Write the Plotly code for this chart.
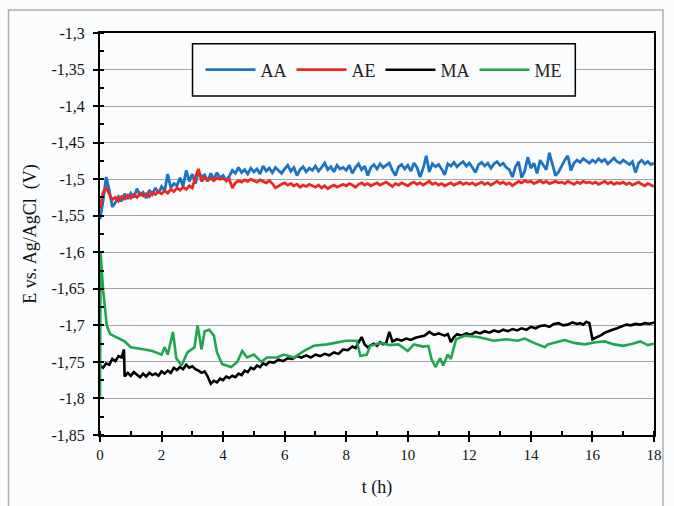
import plotly.graph_objects as go

# ---------------- data ----------------
t_step = [round(i * 0.1, 1) for i in range(181)]

AA = [
    -1.555, -1.530, -1.497, -1.515, -1.538, -1.532, -1.524, -1.530, -1.520, -1.527,
    -1.519, -1.525, -1.513, -1.522, -1.518, -1.526, -1.515, -1.521, -1.512, -1.519,
    -1.510, -1.516, -1.493, -1.512, -1.506, -1.509, -1.498, -1.510, -1.488, -1.503,
    -1.493, -1.506, -1.490, -1.497, -1.494, -1.503, -1.492, -1.500, -1.491, -1.498,
    -1.495, -1.502, -1.496, -1.488, -1.492, -1.484, -1.491, -1.487, -1.493, -1.485,
    -1.490, -1.486, -1.493, -1.482, -1.489, -1.485, -1.491, -1.484, -1.488, -1.492,
    -1.486, -1.481, -1.489, -1.484, -1.495, -1.487, -1.483, -1.490, -1.485, -1.488,
    -1.482, -1.489, -1.484, -1.478, -1.487, -1.483, -1.490, -1.481, -1.486, -1.484,
    -1.488, -1.481, -1.492, -1.484, -1.479, -1.487, -1.482, -1.495, -1.484, -1.480,
    -1.486, -1.479, -1.484, -1.481, -1.478, -1.488, -1.495, -1.483, -1.480, -1.486,
    -1.481, -1.489, -1.478, -1.484, -1.497, -1.485, -1.468, -1.490, -1.479, -1.483,
    -1.480, -1.486, -1.494, -1.479, -1.482, -1.477, -1.483, -1.479, -1.476, -1.482,
    -1.478, -1.484, -1.491, -1.480, -1.477, -1.482, -1.478, -1.485, -1.479, -1.476,
    -1.481, -1.478, -1.484, -1.487, -1.497, -1.483, -1.476, -1.498, -1.489, -1.470,
    -1.485, -1.478, -1.492, -1.474, -1.480, -1.487, -1.464, -1.479, -1.495, -1.490,
    -1.481, -1.474, -1.468, -1.488, -1.478, -1.474, -1.477, -1.472, -1.475, -1.478,
    -1.474, -1.477, -1.472, -1.476, -1.473, -1.479, -1.475, -1.471, -1.476, -1.478,
    -1.474, -1.477, -1.480, -1.476, -1.491, -1.478, -1.474, -1.479, -1.476, -1.480,
    -1.478,
]

AE = [
    -1.540, -1.518, -1.512, -1.520, -1.528, -1.525, -1.530, -1.524, -1.527, -1.522,
    -1.526, -1.521, -1.525, -1.519, -1.523, -1.520, -1.524, -1.518, -1.521, -1.517,
    -1.520, -1.516, -1.519, -1.514, -1.517, -1.512, -1.515, -1.511, -1.514, -1.509,
    -1.512, -1.497, -1.486, -1.503, -1.498, -1.501, -1.499, -1.502, -1.498, -1.500,
    -1.499, -1.502, -1.500, -1.512, -1.505, -1.502, -1.504, -1.501, -1.503, -1.500,
    -1.502, -1.504, -1.501, -1.503, -1.505, -1.502, -1.506, -1.512, -1.509, -1.507,
    -1.505, -1.508, -1.506, -1.509, -1.507, -1.511, -1.508, -1.510, -1.507, -1.509,
    -1.511, -1.508, -1.512, -1.509, -1.513, -1.510, -1.508, -1.511, -1.509, -1.507,
    -1.509, -1.506, -1.508, -1.511, -1.507, -1.505, -1.508, -1.506, -1.509, -1.507,
    -1.505, -1.508, -1.506, -1.504, -1.507, -1.510, -1.506, -1.508, -1.505, -1.507,
    -1.509, -1.506, -1.504, -1.507, -1.505, -1.508, -1.506, -1.503, -1.507, -1.505,
    -1.508, -1.506, -1.509, -1.507, -1.505, -1.508, -1.506, -1.504, -1.507, -1.505,
    -1.507, -1.505, -1.508, -1.506, -1.504, -1.507, -1.505, -1.508, -1.506, -1.503,
    -1.506, -1.504, -1.507, -1.505, -1.509, -1.506, -1.503, -1.505, -1.502, -1.504,
    -1.503, -1.506, -1.504, -1.502, -1.505, -1.503, -1.506, -1.504, -1.503, -1.505,
    -1.504, -1.506, -1.503, -1.505, -1.507, -1.504, -1.506, -1.503, -1.505, -1.504,
    -1.506, -1.504, -1.507, -1.505, -1.503, -1.506, -1.504, -1.507, -1.505, -1.506,
    -1.504, -1.507, -1.505, -1.508, -1.506, -1.504, -1.507, -1.509, -1.506, -1.508,
    -1.510,
]

t_MA = [0, 0.1, 0.2, 0.3, 0.4, 0.5, 0.6, 0.7, 0.78, 0.8, 0.9, 1.0, 1.1, 1.2, 1.3, 1.4,
        1.5, 1.6, 1.7, 1.8, 1.9, 2.0, 2.1, 2.2, 2.3, 2.4, 2.5, 2.6, 2.7, 2.8, 2.9, 3.0,
        3.1, 3.2, 3.3, 3.4, 3.5, 3.6, 3.7, 3.8, 3.9, 4.0, 4.1, 4.2, 4.3, 4.4, 4.5, 4.6,
        4.7, 4.8, 4.9, 5.0, 5.1, 5.2, 5.3, 5.4, 5.5, 5.65, 5.8, 5.95, 6.1, 6.25, 6.4,
        6.55, 6.7, 6.85, 7.0, 7.15, 7.3, 7.45, 7.6, 7.75, 7.9, 8.05, 8.2, 8.3, 8.4, 8.5,
        8.6, 8.7, 8.8, 8.9, 9.0, 9.1, 9.2, 9.3, 9.4, 9.5, 9.65, 9.8, 9.95, 10.1, 10.25,
        10.4, 10.55, 10.7, 10.85, 11.0, 11.2, 11.3, 11.4, 11.5, 11.6, 11.75, 11.9,
        12.05, 12.2, 12.35, 12.5, 12.65, 12.8, 12.95, 13.1, 13.25, 13.4, 13.55, 13.7,
        13.85, 14.0, 14.15, 14.3, 14.45, 14.6, 14.75, 14.9, 15.05, 15.2, 15.35, 15.5,
        15.6, 15.7, 15.8, 15.9, 16.0, 16.1, 16.2, 16.3, 16.4, 16.5, 16.65, 16.8, 16.95,
        17.1, 17.25, 17.4, 17.55, 17.7, 17.85, 18.0]
MA = [-1.755, -1.758, -1.752, -1.754, -1.746, -1.749, -1.742, -1.744, -1.733, -1.770,
      -1.765, -1.769, -1.764, -1.767, -1.771, -1.766, -1.770, -1.765, -1.768, -1.766,
      -1.769, -1.763, -1.766, -1.762, -1.765, -1.758, -1.761, -1.757, -1.760, -1.754,
      -1.758, -1.756, -1.760, -1.762, -1.765, -1.763, -1.770, -1.780, -1.776, -1.778,
      -1.773, -1.775, -1.770, -1.772, -1.769, -1.771, -1.766, -1.768, -1.762, -1.764,
      -1.758, -1.760, -1.755, -1.757, -1.752, -1.754, -1.750, -1.751, -1.747, -1.749,
      -1.745, -1.746, -1.742, -1.744, -1.741, -1.744, -1.740, -1.742, -1.739, -1.741,
      -1.737, -1.739, -1.733, -1.734, -1.729, -1.731, -1.724, -1.716, -1.726, -1.730,
      -1.727, -1.725, -1.728, -1.723, -1.726, -1.724, -1.709, -1.722, -1.719, -1.721,
      -1.718, -1.720, -1.717, -1.716, -1.714, -1.709, -1.713, -1.711, -1.714, -1.712,
      -1.723, -1.716, -1.712, -1.714, -1.711, -1.713, -1.709, -1.711, -1.708, -1.710,
      -1.707, -1.709, -1.706, -1.708, -1.705, -1.707, -1.704, -1.706, -1.702, -1.704,
      -1.701, -1.700, -1.702, -1.698, -1.697, -1.700, -1.699, -1.696, -1.698, -1.697,
      -1.699, -1.695, -1.697, -1.719, -1.717, -1.716, -1.713, -1.710, -1.708, -1.706,
      -1.704, -1.702, -1.699, -1.700, -1.698, -1.699, -1.697, -1.698, -1.696, -1.692]

t_ME = [0, 0.02, 0.1, 0.22, 0.33, 0.55, 0.8, 1.0, 1.2, 1.45, 1.7, 2.0, 2.1, 2.2, 2.37,
        2.48, 2.65, 2.84, 3.07, 3.17, 3.3, 3.4, 3.55, 3.7, 3.8, 3.97, 4.26, 4.46, 4.62,
        4.78, 5.0, 5.24, 5.43, 5.75, 5.98, 6.3, 6.63, 6.95, 7.37, 7.7, 8.0, 8.34, 8.46,
        8.67, 8.78, 9.15, 9.4, 9.7, 10.0, 10.2, 10.5, 10.67, 10.77, 10.9, 11.05, 11.15,
        11.3, 11.4, 11.57, 11.86, 12.28, 12.8, 13.2, 13.57, 13.8, 14.1, 14.45, 14.55,
        14.8, 15.1, 15.4, 15.75, 16.1, 16.4, 16.7, 17.0, 17.3, 17.55, 17.8, 18.0]
ME = [-1.800, -1.600, -1.651, -1.700, -1.712, -1.717, -1.722, -1.730, -1.731, -1.733,
      -1.735, -1.740, -1.730, -1.740, -1.709, -1.745, -1.755, -1.737, -1.730, -1.700,
      -1.733, -1.708, -1.706, -1.714, -1.737, -1.753, -1.757, -1.750, -1.735, -1.744,
      -1.740, -1.750, -1.744, -1.744, -1.740, -1.744, -1.735, -1.728, -1.726, -1.723,
      -1.721, -1.721, -1.742, -1.740, -1.728, -1.724, -1.727, -1.726, -1.735, -1.726,
      -1.729, -1.728, -1.746, -1.757, -1.745, -1.755, -1.740, -1.746, -1.719, -1.714,
      -1.716, -1.721, -1.719, -1.721, -1.718, -1.724, -1.730, -1.726, -1.723, -1.720,
      -1.724, -1.726, -1.723, -1.722, -1.726, -1.728, -1.725, -1.722, -1.727, -1.725]

y_tickvals = [-1.85, -1.8, -1.75, -1.7, -1.65, -1.6, -1.55, -1.5, -1.45, -1.4, -1.35, -1.3]
y_ticktext = ["-1,85", "-1,8", "-1,75", "-1,7", "-1,65", "-1,6", "-1,55", "-1,5",
              "-1,45", "-1,4", "-1,35", "-1,3"]
x_tickvals = [0, 2, 4, 6, 8, 10, 12, 14, 16, 18]

series = [
    ("AA", t_step, AA, "#1b73c2", 2.8),
    ("AE", t_step, AE, "#ef2622", 2.8),
    ("MA", t_MA, MA, "#000000", 2.6),
    ("ME", t_ME, ME, "#1fa64f", 2.6),
]

FONT = "Liberation Serif"

fig = go.Figure()
for name, xs, ys, col, w in series:
    fig.add_trace(go.Scatter(x=xs, y=ys, mode="lines", name=name,
                             line=dict(color=col, width=w)))

fig.update_layout(
    width=674, height=506,
    margin=dict(l=100, r=17, t=33, b=71),
    paper_bgcolor="#fbfcfd",
    plot_bgcolor="#fbfcfd",
    font=dict(family=FONT, size=15, color="#111"),
    showlegend=True,
    legend=dict(orientation="h", x=0.5126, y=0.908, xanchor="center", yanchor="middle",
                bgcolor="rgba(0,0,0,0)", borderwidth=0,
                font=dict(family=FONT, size=18, color="#222"),
                itemwidth=50, traceorder="normal"),
    xaxis=dict(range=[0, 18], tickvals=x_tickvals, ticks="outside", ticklen=5,
               tickwidth=1.5, tickcolor="black", showline=True, linecolor="black",
               linewidth=2, mirror=True, showgrid=False, zeroline=False,
               minor=dict(dtick=1, ticks="inside", ticklen=4, tickcolor="black",
                          tickwidth=1.5, showgrid=False),
               title=dict(text="t (h)", font=dict(size=18), standoff=18),
               tickfont=dict(size=15)),
    yaxis=dict(range=[-1.85, -1.3], tickvals=y_tickvals, ticktext=y_ticktext,
               ticks="outside", ticklen=5, tickwidth=1.5, tickcolor="black",
               showline=True, linecolor="black", linewidth=2, mirror=True,
               showgrid=True, gridcolor="#a3a3a3", gridwidth=1, zeroline=False,
               ticklabelstandoff=5,
               minor=dict(dtick=0.025, tick0=-1.85, ticks="inside", ticklen=4,
                          tickcolor="black", tickwidth=1.5, showgrid=False),
               title=dict(text="E vs. Ag/AgCl  (V)", font=dict(size=18), standoff=10),
               tickfont=dict(size=16)),
    shapes=[
        dict(type="rect", xref="paper", yref="paper",
             x0=-0.1652, x1=1.0162, y0=-0.19, y1=1.0575,
             line=dict(color="#b0b0b0", width=1.5), fillcolor="rgba(0,0,0,0)",
             layer="below"),
        dict(type="rect", xref="paper", yref="paper",
             x0=0.167, x1=0.858, y0=0.843, y1=0.973,
             line=dict(color="black", width=1.5), fillcolor="#fbfcfd",
             layer="above"),
    ],
)

fig.write_html("out.html")
